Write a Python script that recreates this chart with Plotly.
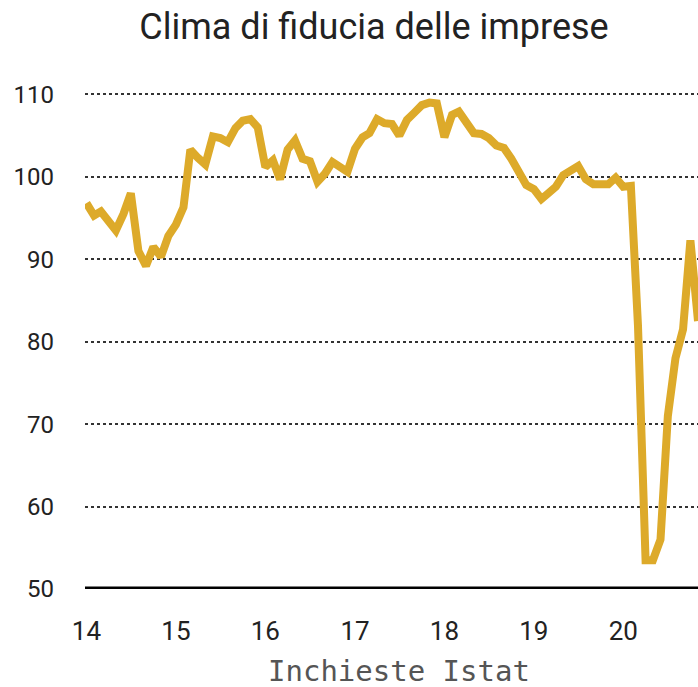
import pandas as pd
import plotly.graph_objects as go

# Monthly business confidence index (Istat), Jan 2014 - Nov 2020
values_2014 = [96.8, 95.3, 95.8, 94.7, 93.5, 95.5, 98.0, 91.0, 89.2, 91.5, 90.3, 92.8]
values_2015 = [94.2, 96.3, 103.3, 102.3, 101.5, 104.9, 104.7, 104.2, 105.9, 106.8, 107.0, 106.0]
values_2016 = [101.2, 102.0, 99.7, 103.3, 104.4, 102.2, 101.9, 99.4, 100.4, 101.8, 101.3, 100.6]
values_2017 = [103.4, 104.8, 105.3, 107.0, 106.5, 106.4, 105.0, 106.9, 107.8, 108.7, 109.0, 108.9]
values_2018 = [104.8, 107.5, 107.9, 106.4, 105.3, 105.2, 104.7, 103.8, 103.5, 102.2, 100.6, 99.0]
values_2019 = [98.5, 97.3, 98.0, 98.8, 100.2, 100.7, 101.3, 99.7, 99.1, 99.1, 99.1, 99.9]
values_2020 = [98.8, 98.9, 82.0, 53.5, 53.5, 56.0, 71.0, 78.0, 81.5, 92.3, 82.5]

values = values_2014 + values_2015 + values_2016 + values_2017 + values_2018 + values_2019 + values_2020
dates = pd.date_range("2014-01-01", periods=len(values), freq="MS")

y_ticks = [50, 60, 70, 80, 90, 100, 110]
x_tick_labels = ["14", "15", "16", "17", "18", "19", "20"]
x_tick_dates = [f"20{t}-01-01" for t in x_tick_labels]

title_text = "Clima di fiducia delle imprese"
source_text = "Inchieste Istat"

fig = go.Figure()
fig.add_trace(go.Scatter(
    x=dates, y=values, mode="lines",
    line=dict(color="#DDAA2A", width=8, shape="linear"),
    hoverinfo="skip", showlegend=False,
))

fig.add_shape(type="line", xref="paper", yref="y", x0=0, x1=1, y0=50, y1=50,
              line=dict(color="#000000", width=5))

fig.update_layout(
    width=698, height=687,
    margin=dict(l=85, r=0, t=82, b=98),
    paper_bgcolor="white", plot_bgcolor="white",
    title=dict(text=title_text, x=374 / 698, xanchor="center",
               y=1 - 26 / 687, yanchor="middle",
               font=dict(family="Roboto", size=36, color="#222222")),
    font=dict(family="Roboto", color="#222222"),
)

fig.update_xaxes(
    type="date",
    range=["2013-12-26", "2020-11-01"],
    tickvals=x_tick_dates, ticktext=x_tick_labels,
    tickfont=dict(family="Roboto", size=26, color="#222222"),
    showgrid=False, zeroline=False, showline=False, ticks="",
    ticklabelstandoff=24,
)

fig.update_yaxes(
    range=[50, 111.5],
    tickvals=y_ticks,
    tickfont=dict(family="Roboto", size=24, color="#222222"),
    showgrid=True, gridcolor="#333333", gridwidth=2, griddash="dot",
    zeroline=False, showline=False, ticks="",
    ticklabelstandoff=30,
)

fig.add_annotation(
    text=source_text, xref="paper", yref="paper",
    x=(399 - 85) / 613, y=(589 - 671) / 507,
    xanchor="center", yanchor="middle", showarrow=False,
    borderpad=0,
    font=dict(family="DejaVu Sans Mono", size=29, color="#555555"),
)

fig.write_html("out.html",
               config={"displayModeBar": False, "staticPlot": True},
               post_script="document.body.style.margin='0px';document.body.style.overflow='hidden';")
